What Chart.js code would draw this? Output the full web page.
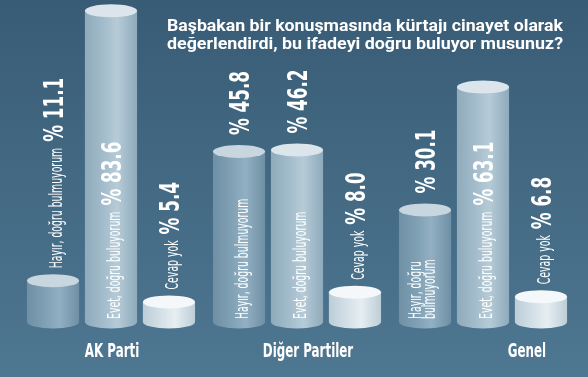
<!DOCTYPE html>
<html>
<head>
<meta charset="utf-8">
<script src="https://cdn.jsdelivr.net/npm/chart.js@4"></script>
<style>
  html, body { margin: 0; padding: 0; background: #3f6580; }
  #wrap { width: 588px; height: 377px; position: relative; }
</style>
</head>
<body>
<div id="wrap"><canvas id="anket"></canvas></div>
<script>
var categories = ["AK Parti", "Diğer Partiler", "Genel"];
var seriesNames = ["Hayır, doğru bulmuyorum", "Evet, doğru buluyorum", "Cevap yok"];
var hayirValues = [11.1, 45.8, 30.1];
var evetValues = [83.6, 46.2, 63.1];
var cevapYokValues = [5.4, 8.0, 6.8];
var titleLines = [
  "Başbakan bir konuşmasında kürtajı cinayet olarak",
  "değerlendirdi, bu ifadeyi doğru buluyor musunuz?"
];

// where the texts go: above the cap, inside the bar, or name inside + % above
var labelModes = [
  ["above", "split", "split"],
  ["inside", "split", "inside"],
  ["above", "above", "above"]
];
var wrappedNames = { "0-2": ["Hayır, doğru", "bulmuyorum"] };
var categoryOffsets = [1, 11, 44];

var cylColors = [
  { dark: "#6f8fa5", base: "#80a0b4", light: "#92b0c2", cap: "#c8d6df" },
  { dark: "#8eaabb", base: "#a3bccb", light: "#b6cbd7", cap: "#dbe5eb" },
  { dark: "#bccdd7", base: "#d4e0e7", light: "#e6eef2", cap: "#f5f8fa" }
];

var narrow = '"Liberation Sans Narrow", "DejaVu Sans Condensed", sans-serif';
var RY = 6.5;

function drawVertical(ctx, text, bx, by, font, sx) {
  ctx.save();
  ctx.translate(bx, by);
  ctx.rotate(-Math.PI / 2);
  ctx.scale(sx, 1);
  ctx.font = font;
  ctx.textAlign = "left";
  ctx.textBaseline = "alphabetic";
  ctx.fillText(text, 0, 0);
  var w = ctx.measureText(text).width * sx;
  ctx.restore();
  return w;
}

function drawCylinder(ctx, x, y, base, w, c) {
  var rx = w / 2, left = x - rx;
  var g = ctx.createLinearGradient(left, 0, left + w, 0);
  g.addColorStop(0, c.dark);
  g.addColorStop(0.35, c.base);
  g.addColorStop(0.62, c.light);
  g.addColorStop(1, c.dark);
  ctx.save();
  ctx.fillStyle = g;
  ctx.beginPath();
  ctx.moveTo(left, y);
  ctx.lineTo(left, base);
  ctx.ellipse(x, base, rx, RY, 0, Math.PI, 0, true);
  ctx.lineTo(left + w, y);
  ctx.closePath();
  ctx.fill();
  ctx.fillStyle = c.cap;
  ctx.beginPath();
  ctx.ellipse(x, y, rx, RY, 0, 0, Math.PI * 2);
  ctx.fill();
  ctx.restore();
}

var backgroundPlugin = {
  id: "arkaPlan",
  beforeDraw: function (chart) {
    var ctx = chart.ctx;
    var g = ctx.createLinearGradient(0, 0, 0, chart.height);
    g.addColorStop(0, "#395c76");
    g.addColorStop(1, "#4e7791");
    ctx.save();
    ctx.fillStyle = g;
    ctx.fillRect(0, 0, chart.width, chart.height);
    ctx.restore();
  }
};

var cylinderPlugin = {
  id: "silindir",
  afterDatasetsDraw: function (chart) {
    var ctx = chart.ctx;
    chart.data.datasets.forEach(function (ds, di) {
      var meta = chart.getDatasetMeta(di);
      meta.data.forEach(function (bar, i) {
        var p = bar.getProps(["x", "y", "base", "width"], true);
        drawCylinder(ctx, p.x, p.y, p.base, p.width, cylColors[di]);
      });
    });

    ctx.save();
    ctx.fillStyle = "#ffffff";
    chart.data.datasets.forEach(function (ds, di) {
      var meta = chart.getDatasetMeta(di);
      meta.data.forEach(function (bar, i) {
        var p = bar.getProps(["x", "y", "base", "width"], true);
        var mode = labelModes[di][i];
        var lines = wrappedNames[di + "-" + i] || [seriesNames[di]];
        var nameFont = "17px " + narrow;
        var pctFont = "bold 27px " + narrow;
        var start = mode === "above" ? p.y - RY - 6 : p.base - 3;
        var nameW = 0;
        if (lines.length === 1) {
          nameW = drawVertical(ctx, lines[0], p.x + 9, start, nameFont, 0.61);
        } else {
          lines.forEach(function (ln, k) {
            var w = drawVertical(ctx, ln, p.x - 4 + k * 14, start, nameFont, 0.61);
            nameW = Math.max(nameW, w);
          });
        }
        var pctStart = mode === "split" ? p.y - RY - 10 : start - nameW - 6;
        drawVertical(ctx, "% " + ds.data[i].toFixed(1), p.x + 10, pctStart, pctFont, 0.69);
      });
    });

    // category names under the groups
    var xs = chart.scales.x;
    ctx.font = "bold 20px " + narrow;
    ctx.textAlign = "center";
    ctx.textBaseline = "alphabetic";
    categories.forEach(function (c, i) {
      ctx.save();
      ctx.translate(xs.getPixelForValue(i) + categoryOffsets[i], 357);
      ctx.scale(0.66, 1);
      ctx.fillText(c, 0, 0);
      ctx.restore();
    });

    // title, both lines stretched to the same width
    ctx.font = "bold 16px Roboto, sans-serif";
    ctx.textAlign = "left";
    titleLines.forEach(function (t, k) {
      var sx = 396 / ctx.measureText(t).width;
      ctx.save();
      ctx.translate(167, 31 + k * 18);
      ctx.scale(sx, 1);
      ctx.fillText(t, 0, 0);
      ctx.restore();
    });
    ctx.restore();
  }
};

new Chart("anket", {
  type: "bar",
  data: {
    labels: categories,
    datasets: [
      { label: seriesNames[0], data: hayirValues, backgroundColor: "rgba(0,0,0,0)" },
      { label: seriesNames[1], data: evetValues, backgroundColor: "rgba(0,0,0,0)" },
      { label: seriesNames[2], data: cevapYokValues, backgroundColor: "rgba(0,0,0,0)" }
    ]
  },
  options: {
    responsive: true,
    maintainAspectRatio: false,
    devicePixelRatio: 1,
    animation: false,
    categoryPercentage: 0.935,
    barPercentage: 0.9,
    layout: { padding: { left: 18, right: 12, top: 0, bottom: 55 } },
    plugins: {
      legend: { display: false },
      tooltip: { enabled: false },
      title: { display: false }
    },
    scales: {
      x: { display: false },
      y: { display: false, min: 0, max: 86.5 }
    }
  },
  plugins: [backgroundPlugin, cylinderPlugin]
});
</script>
</body>
</html>
